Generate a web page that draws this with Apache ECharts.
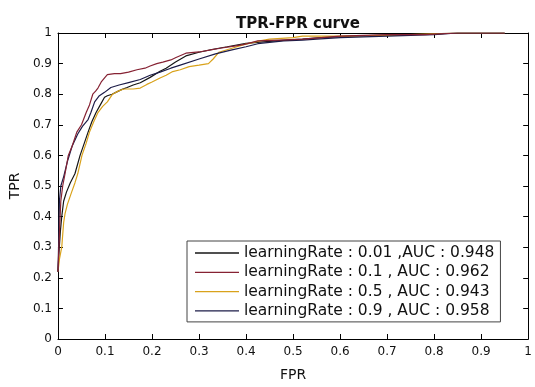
<!DOCTYPE html>
<html>
<head>
<meta charset="utf-8">
<script src="https://cdn.jsdelivr.net/npm/echarts@6/dist/echarts.min.js"></script>
<style>
html,body{margin:0;padding:0;background:#fff;}
#c{width:535px;height:387px;}
</style>
</head>
<body>
<div id="c"></div>
<script>
// ---- data ----
var seriesNames = [
  'learningRate : 0.01 ,AUC : 0.948',
  'learningRate : 0.1 , AUC : 0.962',
  'learningRate : 0.5 , AUC : 0.943',
  'learningRate : 0.9 , AUC : 0.958'
];
var xTickLabels = ['0','0.1','0.2','0.3','0.4','0.5','0.6','0.7','0.8','0.9','1'];
var yTickLabels = ['0','0.1','0.2','0.3','0.4','0.5','0.6','0.7','0.8','0.9','1'];

var fpr001 = [0, 0.002, 0.005, 0.008, 0.012, 0.018, 0.026, 0.036, 0.047, 0.056, 0.064, 0.072, 0.081, 0.09, 0.099, 0.105, 0.115, 0.123, 0.135, 0.147, 0.16, 0.175, 0.196, 0.217, 0.23, 0.25, 0.272, 0.3, 0.33, 0.36, 0.4, 0.43, 0.47, 0.52, 0.56, 0.62, 0.7, 0.78, 0.85, 0.95];
var tpr001 = [0.22, 0.28, 0.35, 0.40, 0.45, 0.48, 0.51, 0.54, 0.60, 0.64, 0.676, 0.71, 0.74, 0.765, 0.79, 0.795, 0.80, 0.806, 0.815, 0.822, 0.83, 0.8375, 0.855, 0.875, 0.885, 0.905, 0.925, 0.937, 0.947, 0.955, 0.966, 0.97, 0.975, 0.98, 0.985, 0.99, 0.993, 0.996, 1, 1];

var fpr01 = [0, 0.002, 0.004, 0.006, 0.01, 0.015, 0.022, 0.03, 0.04, 0.05, 0.06, 0.067, 0.074, 0.08, 0.085, 0.092, 0.1, 0.105, 0.12, 0.133, 0.15, 0.168, 0.185, 0.196, 0.21, 0.223, 0.24, 0.251, 0.272, 0.3, 0.325, 0.348, 0.375, 0.397, 0.425, 0.47, 0.52, 0.56, 0.6, 0.7, 0.78, 0.85, 0.95];
var tpr01 = [0.22, 0.3, 0.38, 0.45, 0.5, 0.54, 0.6, 0.63, 0.676, 0.70, 0.74, 0.765, 0.80, 0.81, 0.82, 0.84, 0.855, 0.864, 0.867, 0.867, 0.872, 0.88, 0.885, 0.892, 0.90, 0.905, 0.912, 0.92, 0.934, 0.938, 0.945, 0.951, 0.957, 0.963, 0.974, 0.977, 0.98, 0.985, 0.99, 0.995, 0.995, 1, 1];

var fpr05 = [0, 0.003, 0.008, 0.012, 0.015, 0.02, 0.029, 0.036, 0.042, 0.051, 0.06, 0.067, 0.076, 0.085, 0.095, 0.105, 0.116, 0.128, 0.14, 0.16, 0.175, 0.189, 0.2, 0.217, 0.23, 0.244, 0.26, 0.279, 0.3, 0.32, 0.33, 0.342, 0.37, 0.397, 0.432, 0.45, 0.5, 0.52, 0.6, 0.7, 0.75, 0.85, 0.95];
var tpr05 = [0.22, 0.26, 0.3, 0.38, 0.41, 0.44, 0.48, 0.51, 0.54, 0.60, 0.64, 0.676, 0.71, 0.74, 0.76, 0.775, 0.80, 0.81, 0.817, 0.817, 0.82, 0.832, 0.84, 0.853, 0.862, 0.874, 0.88, 0.89, 0.895, 0.90, 0.915, 0.937, 0.95, 0.963, 0.975, 0.98, 0.985, 0.99, 0.99, 0.992, 0.995, 1, 1];

var fpr09 = [0, 0.002, 0.003, 0.006, 0.012, 0.02, 0.03, 0.042, 0.052, 0.064, 0.07, 0.078, 0.088, 0.099, 0.1125, 0.13, 0.15, 0.175, 0.196, 0.217, 0.24, 0.26, 0.3, 0.335, 0.37, 0.4, 0.425, 0.48, 0.52, 0.55, 0.6, 0.7, 0.8, 0.85, 0.95];
var tpr09 = [0.22, 0.35, 0.45, 0.5, 0.53, 0.58, 0.63, 0.67, 0.695, 0.717, 0.74, 0.775, 0.795, 0.806, 0.822, 0.83, 0.838, 0.848, 0.862, 0.872, 0.885, 0.895, 0.915, 0.932, 0.945, 0.955, 0.965, 0.974, 0.977, 0.98, 0.985, 0.99, 0.995, 1, 1];

var seriesColors = ['#161616', '#862233', '#d9a21b', '#1c1c48'];

// ---- chart ----
function zip(xs, ys) { return xs.map(function (x, i) { return [x, ys[i]]; }); }
var allFpr = [fpr001, fpr01, fpr05, fpr09];
var allTpr = [tpr001, tpr01, tpr05, tpr09];
var FONT = 'DejaVu Sans';

var series = seriesNames.map(function (n, i) {
  return {
    name: n, type: 'line', data: zip(allFpr[i], allTpr[i]),
    symbol: 'none', showSymbol: false,
    lineStyle: { color: seriesColors[i], width: 1.2 },
    itemStyle: { color: seriesColors[i] },
    z: i === 1 ? 3 : 2
  };
});

function baseAxis(labels, pos, show) {
  return {
    type: 'value', min: 0, max: 1, interval: 0.1, position: pos,
    axisLine: { show: true, onZero: false, lineStyle: { color: '#000', width: 1 } },
    axisTick: { show: true, inside: true, length: 5, lineStyle: { color: '#000' } },
    axisLabel: {
      show: show, color: '#111', fontFamily: FONT, fontSize: 12, margin: 7,
      formatter: function (v) { return labels[Math.round(v * 10)]; }
    },
    splitLine: { show: false }
  };
}

var xMain = baseAxis(xTickLabels, 'bottom', true);
xMain.name = 'FPR'; xMain.nameLocation = 'middle'; xMain.nameGap = 29;
xMain.nameTextStyle = { fontFamily: FONT, fontSize: 14, color: '#111' };
var xTop = baseAxis(xTickLabels, 'top', false);
var yMain = baseAxis(yTickLabels, 'left', true);
yMain.axisLabel.margin = 6;
yMain.name = 'TPR'; yMain.nameLocation = 'middle'; yMain.nameGap = 30;
yMain.nameTextStyle = { fontFamily: FONT, fontSize: 14, color: '#111' };
var yRight = baseAxis(yTickLabels, 'right', false);

var chart = echarts.init(document.getElementById('c'), null, { renderer: 'canvas' });
chart.setOption({
  animation: false,
  backgroundColor: '#fff',
  title: {
    text: 'TPR-FPR curve', left: 293, top: 12, textAlign: 'center',
    textStyle: { fontFamily: FONT, fontSize: 15, fontWeight: 'bold', color: '#111' }
  },
  grid: { left: 56, right: 1, top: 33, bottom: 34, containLabel: false },
  legend: {
    show: true,
    data: seriesNames, orient: 'vertical', left: 187, top: 241,
    backgroundColor: '#fff', borderColor: '#444', borderWidth: 1,
    padding: [4, 6, 3, 8], itemWidth: 44, itemHeight: 1.3, itemGap: 3.3,
    icon: 'rect',
    textStyle: { fontFamily: FONT, fontSize: 15.5, color: '#111' }
  },
  xAxis: [xMain, xTop],
  yAxis: [yMain, yRight],
  series: series
});
</script>
</body>
</html>
